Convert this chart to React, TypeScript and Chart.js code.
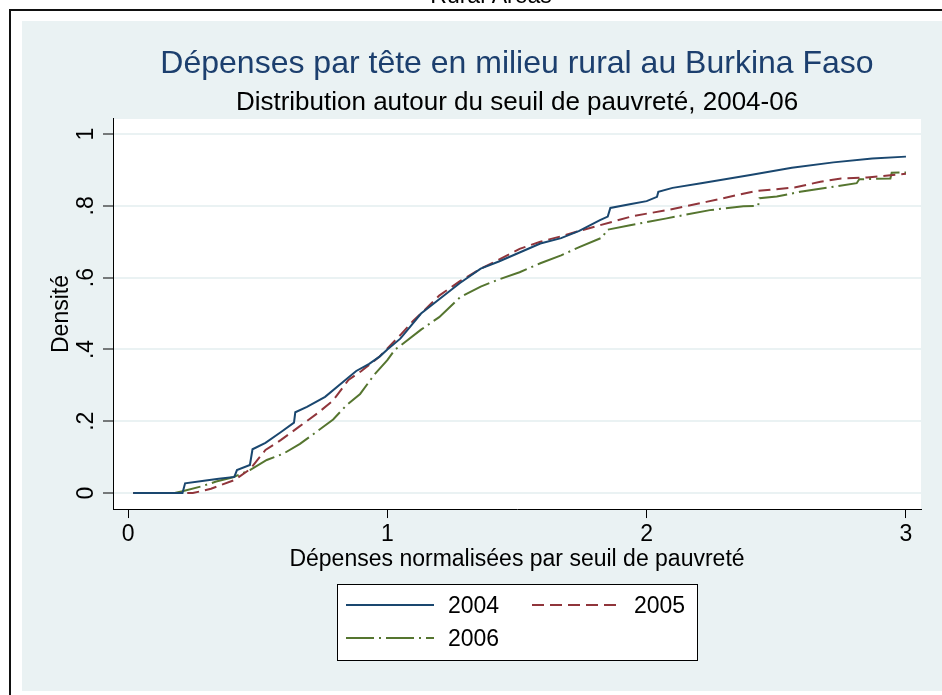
import { useEffect, useRef } from "react";
import { Chart, registerables } from "chart.js";

Chart.register(...registerables);

const TOP_TEXT = "Rural Areas";
const TITLE = "Dépenses par tête en milieu rural au Burkina Faso";
const SUBTITLE = "Distribution autour du seuil de pauvreté, 2004-06";
const X_TITLE = "Dépenses normalisées par seuil de pauvreté";
const Y_TITLE = "Densité";

const SERIES_LABELS = ["2004", "2005", "2006"];

const X_2004 = [0.02, 0.21, 0.22, 0.3, 0.35, 0.41, 0.42, 0.47, 0.48, 0.53, 0.59, 0.64, 0.645, 0.69, 0.76, 0.83, 0.88, 0.93, 0.97, 1.0, 1.05, 1.09, 1.13, 1.2, 1.28, 1.36, 1.43, 1.51, 1.59, 1.67, 1.74, 1.82, 1.85, 1.86, 1.94, 2.0, 2.04, 2.045, 2.1, 2.21, 2.4, 2.56, 2.72, 2.87, 3.0];
const Y_2004 = [0, 0, 0.027, 0.035, 0.04, 0.045, 0.064, 0.078, 0.122, 0.14, 0.17, 0.196, 0.225, 0.24, 0.268, 0.31, 0.34, 0.36, 0.38, 0.4, 0.43, 0.465, 0.5, 0.54, 0.585, 0.625, 0.645, 0.67, 0.695, 0.71, 0.73, 0.76, 0.77, 0.794, 0.805, 0.813, 0.825, 0.839, 0.85, 0.863, 0.886, 0.906, 0.921, 0.932, 0.937];

const X_2005 = [0.02, 0.25, 0.28, 0.32, 0.35, 0.41, 0.47, 0.53, 0.59, 0.66, 0.73, 0.79, 0.85, 0.9, 0.97, 1.05, 1.1, 1.13, 1.2, 1.28, 1.36, 1.43, 1.51, 1.59, 1.67, 1.74, 1.82, 1.95, 2.08, 2.23, 2.42, 2.57, 2.67, 2.75, 2.85, 3.0];
const Y_2005 = [0, 0, 0.005, 0.012, 0.02, 0.036, 0.066, 0.12, 0.148, 0.185, 0.222, 0.257, 0.315, 0.34, 0.38, 0.44, 0.48, 0.5, 0.55, 0.59, 0.625, 0.65, 0.68, 0.7, 0.715, 0.73, 0.746, 0.772, 0.788, 0.811, 0.841, 0.851, 0.867, 0.876, 0.879, 0.889];

const X_2006 = [0.02, 0.18, 0.21, 0.28, 0.34, 0.405, 0.47, 0.535, 0.6, 0.663, 0.728, 0.791, 0.843, 0.895, 0.95, 1.0, 1.03, 1.05, 1.13, 1.2, 1.28, 1.36, 1.43, 1.51, 1.59, 1.67, 1.74, 1.83, 1.846, 1.936, 2.077, 2.244, 2.373, 2.43, 2.435, 2.502, 2.592, 2.81, 2.82, 2.94, 2.945, 3.0];
const Y_2006 = [0, 0, 0.005, 0.018, 0.032, 0.044, 0.064, 0.092, 0.11, 0.137, 0.171, 0.205, 0.245, 0.276, 0.33, 0.37, 0.4, 0.41, 0.455, 0.49, 0.545, 0.575, 0.595, 0.615, 0.64, 0.662, 0.685, 0.712, 0.733, 0.746, 0.765, 0.788, 0.799, 0.8, 0.821, 0.826, 0.839, 0.863, 0.874, 0.876, 0.892, 0.893];

const X_TICKS = [0, 1, 2, 3];
const X_TICK_LABELS = ["0", "1", "2", "3"];
const Y_TICKS = [0, 0.2, 0.4, 0.6, 0.8, 1];
const Y_TICK_LABELS = ["0", ".2", ".4", ".6", ".8", "1"];

const FONT = "'Liberation Sans', Arial, Helvetica, sans-serif";
const BG = "#EAF2F3";
const COLORS = ["#1A476F", "#90353B", "#55752F"];
const DASHES: number[][] = [[], [12, 6], [28, 5, 2, 5]];

const backgroundPlugin = {
  id: "stataBackground",
  beforeDraw(chart: any) {
    const { ctx, chartArea, width } = chart;
    ctx.save();
    ctx.fillStyle = "#ffffff";
    ctx.fillRect(0, 0, chart.width, chart.height);
    ctx.fillStyle = "#000";
    ctx.font = `23px ${FONT}`;
    ctx.textAlign = "center";
    ctx.textBaseline = "alphabetic";
    ctx.fillText(TOP_TEXT, width / 2 + 20, 3);
    ctx.strokeStyle = "#111";
    ctx.lineWidth = 2;
    ctx.strokeRect(10, 10, 1000, 1000);
    ctx.fillStyle = BG;
    ctx.fillRect(22, 21, chart.width - 22, 691 - 21);
    ctx.fillStyle = "#ffffff";
    ctx.fillRect(chartArea.left, chartArea.top, chartArea.right - chartArea.left, chartArea.bottom - chartArea.top);
    ctx.restore();
  },
};

const legendPlugin = {
  id: "stataLegend",
  afterDraw(chart: any) {
    const { ctx, chartArea } = chart;
    const cx = (chartArea.left + chartArea.right) / 2;
    const w = 360;
    const h = 76;
    const left = Math.round(cx - w / 2);
    const top = Math.round(chartArea.bottom + 75);
    ctx.save();
    ctx.fillStyle = "#ffffff";
    ctx.fillRect(left, top, w, h);
    ctx.strokeStyle = "#000";
    ctx.lineWidth = 1;
    ctx.strokeRect(left + 0.5, top + 0.5, w, h);
    const cols = [9, 195];
    const rows = [21, 54];
    chart.data.datasets.forEach((ds: any, i: number) => {
      const col = cols[i % 2];
      const row = rows[Math.floor(i / 2)];
      ctx.beginPath();
      ctx.strokeStyle = ds.borderColor;
      ctx.lineWidth = ds.borderWidth;
      ctx.setLineDash(ds.borderDash || []);
      ctx.moveTo(left + col, top + row);
      ctx.lineTo(left + col + 88, top + row);
      ctx.stroke();
      ctx.setLineDash([]);
      ctx.fillStyle = "#000";
      ctx.font = `23px ${FONT}`;
      ctx.textAlign = "left";
      ctx.textBaseline = "middle";
      ctx.fillText(ds.label, left + col + 102, top + row + 2);
    });
    ctx.restore();
  },
};

function makeSeries(xs: number[], ys: number[]) {
  return xs.map((x, i) => ({ x, y: ys[i] }));
}

export default function App() {
  const canvasRef = useRef<HTMLCanvasElement | null>(null);

  useEffect(() => {
    if (!canvasRef.current) return;
    const seriesX = [X_2004, X_2005, X_2006];
    const seriesY = [Y_2004, Y_2005, Y_2006];
    const chart = new Chart(canvasRef.current, {
      type: "line",
      data: {
        datasets: SERIES_LABELS.map((label, i) => ({
          label,
          data: makeSeries(seriesX[i], seriesY[i]),
          borderColor: COLORS[i],
          backgroundColor: COLORS[i],
          borderWidth: 2,
          borderDash: DASHES[i],
          pointRadius: 0,
          fill: false,
          tension: 0,
        })),
      },
      options: {
        responsive: false,
        animation: false,
        events: [],
        layout: { padding: { left: 50.5, right: 21, top: 0, bottom: 128 } },
        plugins: {
          legend: { display: false },
          tooltip: { enabled: false },
          title: {
            display: true,
            text: TITLE,
            color: "#1C3F6E",
            fullSize: false,
            font: { family: FONT, size: 32, weight: "normal", lineHeight: 1.2 },
            padding: { top: 44.8, bottom: 0 },
          },
          subtitle: {
            display: true,
            text: SUBTITLE,
            color: "#000",
            fullSize: false,
            font: { family: FONT, size: 26, weight: "normal", lineHeight: 1.15 },
            padding: { top: 5, bottom: 0.9 },
          },
        },
        scales: {
          x: {
            type: "linear",
            min: -0.058,
            max: 3.058,
            afterBuildTicks: (s: any) => {
              s.ticks = X_TICKS.map((v) => ({ value: v }));
            },
            ticks: {
              callback: (_v: any, i: number) => X_TICK_LABELS[i],
              color: "#000",
              autoSkip: false,
              maxRotation: 0,
              minRotation: 0,
              padding: 5.5,
              font: { family: FONT, size: 23, lineHeight: 1.0 },
            },
            grid: { drawOnChartArea: false, tickLength: 9, tickColor: "#000", tickWidth: 1 },
            border: { color: "#000", width: 1 },
            title: {
              display: true,
              text: X_TITLE,
              color: "#000",
              font: { family: FONT, size: 23, lineHeight: 0.65 },
              padding: 0,
            },
          },
          y: {
            type: "linear",
            min: -0.0446,
            max: 1.0418,
            afterBuildTicks: (s: any) => {
              s.ticks = Y_TICKS.map((v) => ({ value: v }));
            },
            ticks: {
              callback: (_v: any, i: number) => Y_TICK_LABELS[i],
              color: "#000",
              autoSkip: false,
              minRotation: 90,
              maxRotation: 90,
              crossAlign: "center",
              padding: 6.7,
              font: { family: FONT, size: 23, lineHeight: 0.7 },
            },
            grid: { color: BG, lineWidth: 2, tickLength: 10, tickColor: "#000", tickWidth: 1 },
            border: { color: "#000", width: 1 },
            title: {
              display: true,
              text: Y_TITLE,
              color: "#000",
              font: { family: FONT, size: 23, lineHeight: 1.0 },
              padding: 0,
            },
          },
        },
      },
      plugins: [backgroundPlugin, legendPlugin],
    } as any);
    return () => chart.destroy();
  }, []);

  return (
    <div style={{ position: "fixed", left: 0, top: 0, width: 942, height: 695 }}>
      <canvas ref={canvasRef} width={942} height={695} style={{ width: 942, height: 695, display: "block" }} />
    </div>
  );
}
